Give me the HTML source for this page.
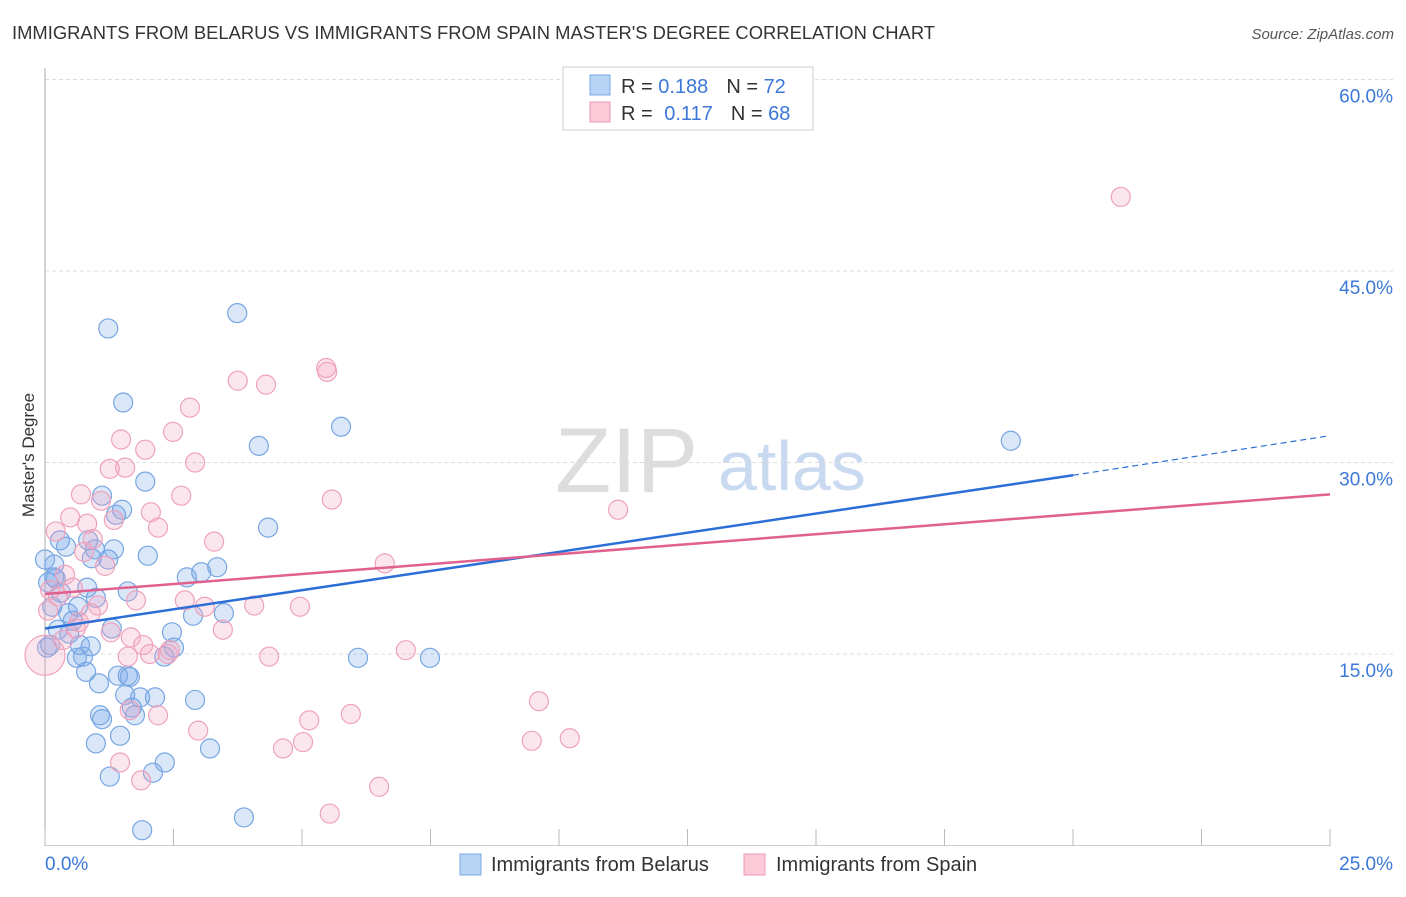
<!DOCTYPE html>
<html><head><meta charset="utf-8"><style>
body{margin:0;background:#fff;font-family:"Liberation Sans",sans-serif;}
svg text{font-family:"Liberation Sans",sans-serif;}
</style></head><body>
<svg id="chart" width="1406" height="892" xmlns="http://www.w3.org/2000/svg">
<text x="12" y="39" font-size="18" fill="#333" textLength="923" lengthAdjust="spacingAndGlyphs">IMMIGRANTS FROM BELARUS VS IMMIGRANTS FROM SPAIN MASTER'S DEGREE CORRELATION CHART</text>
<text x="1394" y="39" font-size="15" fill="#555" text-anchor="end" font-style="italic">Source: ZipAtlas.com</text>
<g>
<text x="555" y="492" font-size="92" fill="#ddd" font-family="Liberation Serif, serif">ZIP</text>
<text x="718" y="490" font-size="70" fill="#c9daf0">atlas</text>
</g>
<g id="grid"></g>
<g id="axes"></g>
<g id="pts"></g>
<g id="lines"></g>
<text transform="translate(34,455) rotate(-90)" font-size="17" fill="#333" text-anchor="middle">Master's Degree</text>
<g>
<rect x="563" y="67" width="250" height="63" fill="#fff" stroke="#ccc"/>
<rect x="590" y="75" width="20" height="20" fill="#b8d4f5" stroke="#7aa8e4"/>
<rect x="590" y="102" width="20" height="20" fill="#fbc9d8" stroke="#ee9ab5"/>
<text x="621" y="93" font-size="20" fill="#333">R = <tspan fill="#3b78d8">0.188</tspan><tspan dx="18">N = </tspan><tspan fill="#3b78d8">72</tspan></text>
<text x="621" y="120" font-size="20" fill="#333">R = <tspan fill="#3b78d8" dx="6">0.117</tspan><tspan dx="18">N = </tspan><tspan fill="#3b78d8">68</tspan></text>
</g>
<g>
<rect x="460" y="854" width="21" height="21" fill="#b8d4f5" stroke="#7aa8e4"/>
<text x="491" y="871" font-size="20" fill="#333">Immigrants from Belarus</text>
<rect x="744" y="854" width="21" height="21" fill="#fbc9d8" stroke="#ee9ab5"/>
<text x="776" y="871" font-size="20" fill="#333">Immigrants from Spain</text>
</g>
</svg>
<script>
const blueX=[1.23,3.74,1.52,4.16,5.76,18.79,1.95,1.11,1.50,1.38,4.34,0.29,0.84,0.41,0.97,1.34,2.00,0.91,0.18,1.23,2.76,3.04,3.35,0.21,1.61,0.82,0.31,0.14,0.64,0.45,3.48,2.88,0.54,1.30,0.47,2.47,0.10,0.68,0.89,2.51,0.74,0.62,2.32,6.09,7.49,0.80,1.42,1.61,1.65,1.05,1.56,1.85,2.14,2.92,1.69,1.75,1.07,1.11,1.46,0.99,3.21,2.33,2.10,1.26,3.87,1.89,0,0.06,0.18,0.25,0.04,0.99];
const blueY=[40.5,41.7,34.7,31.3,32.8,31.7,28.5,27.4,26.3,25.9,24.9,23.9,23.9,23.4,23.2,23.2,22.7,22.5,22.0,22.4,21.0,21.4,21.8,20.9,19.9,20.2,19.8,18.7,18.7,18.2,18.2,18.0,17.6,17.0,16.6,16.7,15.7,15.7,15.6,15.5,14.8,14.7,14.8,14.7,14.7,13.6,13.3,13.3,13.2,12.7,11.8,11.6,11.6,11.4,10.8,10.2,10.2,9.9,8.6,8.0,7.6,6.5,5.7,5.4,2.2,1.2,22.4,20.6,21.0,16.9,15.5,19.4];
const pinkX=[20.93,3.75,4.30,5.47,5.49,2.82,1.48,2.49,1.95,1.26,1.56,2.92,0.70,2.65,5.58,1.09,11.15,0.49,2.06,0.82,1.34,2.20,0.21,3.29,0.93,0.76,1.17,6.61,0.39,0.54,1.77,2.72,3.11,4.96,4.07,1.03,0.89,0.66,1.28,3.46,1.67,1.91,2.04,2.39,1.61,2.43,4.36,7.02,9.61,2.20,5.95,5.14,2.98,9.47,10.21,5.02,4.63,1.46,1.87,6.50,5.54,0.25,0.06,0.10,0,0.60,1.65,0.35];
const pinkY=[50.8,36.4,36.1,37.4,37.1,34.3,31.8,32.4,31.0,29.5,29.6,30.0,27.5,27.4,27.1,27.0,26.3,25.7,26.1,25.2,25.5,24.9,24.6,23.8,24.0,23.0,21.9,22.1,21.2,20.2,19.2,19.2,18.7,18.7,18.8,18.8,18.2,17.5,16.7,16.9,16.3,15.7,15.0,15.0,14.8,15.3,14.8,15.3,11.3,10.2,10.3,9.8,9.0,8.2,8.4,8.1,7.6,6.5,5.1,4.6,2.5,19.5,18.4,20.0,14.9,17.0,10.6,16.1];
const yTicks=[15,30,45,60];
const yTickLabels=["15.0%","30.0%","45.0%","60.0%"];
const xTicks=[0,2.5,5,7.5,10,12.5,15,17.5,20,22.5,25];
const blueTrend=[17.0,29.0,32.1];
const blueTrendX=[0,20,25];
const pinkTrend=[19.7,27.5];
const pinkTrendX=[0,25];

const NS="http://www.w3.org/2000/svg";
const X=v=>45+v*51.4;
const Y=v=>845.5-v*12.767;
function mk(tag,attrs,parent){const e=document.createElementNS(NS,tag);for(const k in attrs)e.setAttribute(k,attrs[k]);parent.appendChild(e);return e;}
const grid=document.getElementById('grid'),axes=document.getElementById('axes'),pts=document.getElementById('pts'),lines=document.getElementById('lines');
yTicks.forEach((t,i)=>{
 const l=mk('line',{x1:45,x2:1394,y1:Y(t),y2:Y(t),stroke:'#ddd','stroke-dasharray':'4,3'},grid);
 
 
 const tx=mk('text',{x:1393,y:Y(t)+23,'font-size':19,fill:'#3b78d8','text-anchor':'end'},axes);
 tx.textContent=yTickLabels[i];
 
 
});
mk('line',{x1:45,x2:45,y1:68,y2:846,stroke:'#aaa'},axes);
mk('line',{x1:45,x2:1330,y1:845.5,y2:845.5,stroke:'#ccc'},axes);
xTicks.forEach(t=>{
 const l=mk('line',{x1:X(t),x2:X(t),y1:829,y2:846,stroke:'#bbb'},axes);
 
 
});
const x0=mk('text',{x:45,y:870,'font-size':19,fill:'#3b78d8'},axes);x0.textContent='0.0%';


const x1=mk('text',{x:1393,y:870,'font-size':19,fill:'#3b78d8','text-anchor':'end'},axes);x1.textContent='25.0%';


blueX.forEach((v,i)=>{
 const c=mk('circle',{cx:X(v),cy:Y(blueY[i]),r:9.5,fill:'rgba(120,170,235,0.28)',stroke:'#78a6e2','stroke-width':1.2},pts);
 
 
});
pinkX.forEach((v,i)=>{
 const big=(v===0&&pinkY[i]<15.5);
 const c=mk('circle',{cx:X(v),cy:Y(pinkY[i]),r:big?20:9.5,fill:'rgba(245,165,195,0.28)',stroke:'#eea2bb','stroke-width':1.2},pts);
 
 
});
const bl=mk('line',{x1:X(blueTrendX[0]),y1:Y(blueTrend[0]),x2:X(blueTrendX[1]),y2:Y(blueTrend[1]),stroke:'#2b6fd6','stroke-width':2.5},lines);


const bd=mk('line',{x1:X(blueTrendX[1]),y1:Y(blueTrend[1]),x2:X(blueTrendX[2]),y2:Y(blueTrend[2]),stroke:'#2b6fd6','stroke-width':1.2,'stroke-dasharray':'6,4'},lines);


const pl=mk('line',{x1:X(pinkTrendX[0]),y1:Y(pinkTrend[0]),x2:X(pinkTrendX[1]),y2:Y(pinkTrend[1]),stroke:'#e0608e','stroke-width':2.5},lines);


</script>
</body></html>
